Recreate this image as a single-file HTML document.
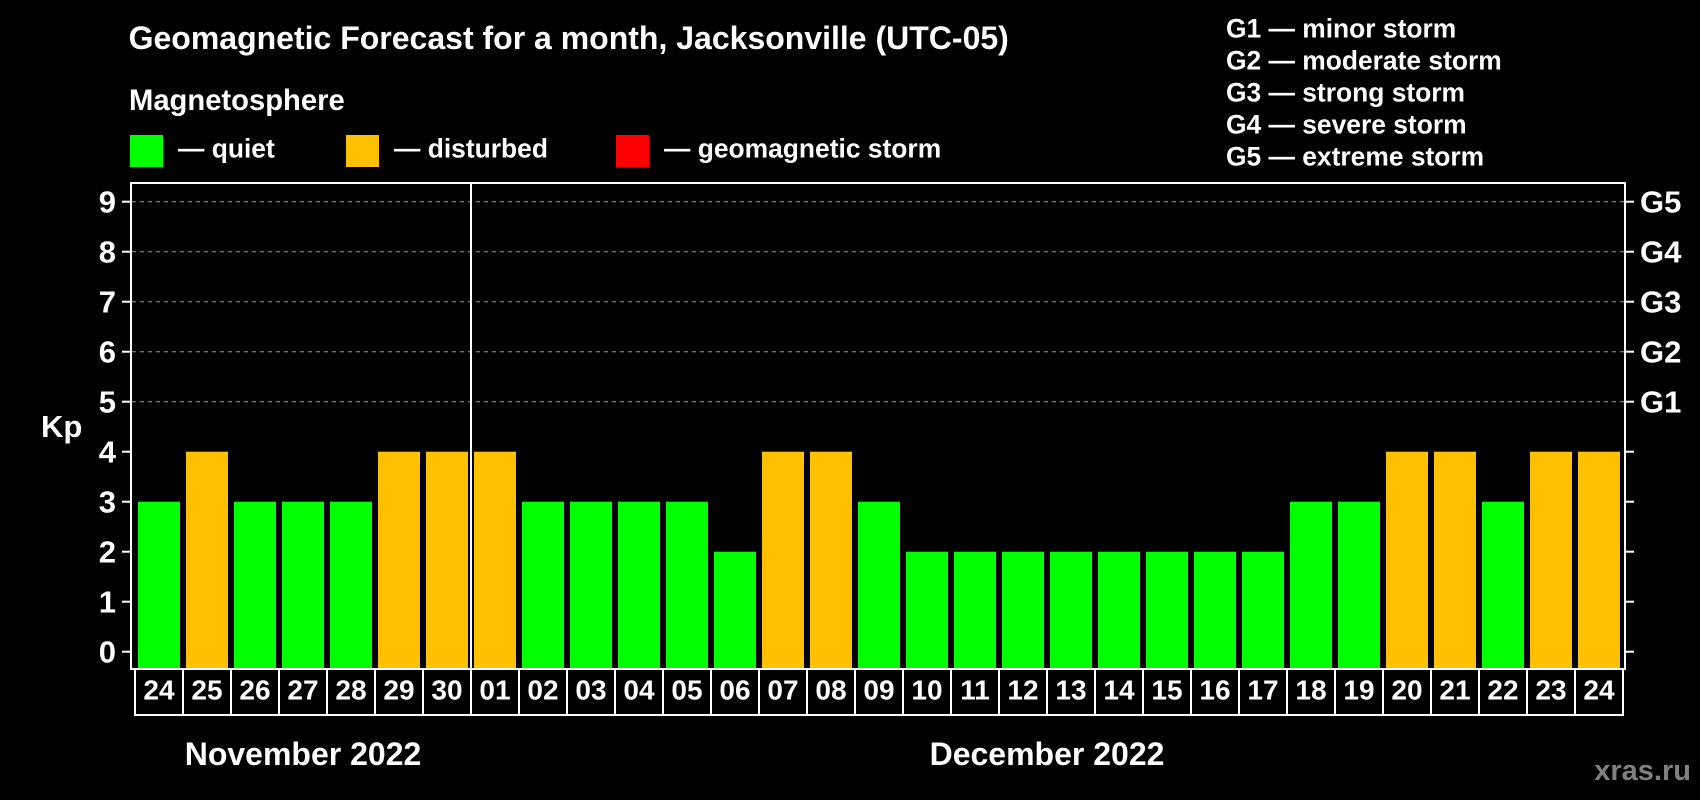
<!DOCTYPE html>
<html>
<head>
<meta charset="utf-8">
<style>
  html, body { margin:0; padding:0; background:#000; }
  body { width:1700px; height:800px; overflow:hidden; }
  svg { display:block; }
  text { font-family:"Liberation Sans", Arial, sans-serif; font-weight:bold; fill:#fff; }
</style>
</head>
<body>
<svg width="1700" height="800" viewBox="0 0 1700 800" xmlns="http://www.w3.org/2000/svg">
  <rect x="0" y="0" width="1700" height="800" fill="#000"/>

  <!-- Title -->
  <text x="128.6" y="49" font-size="32">Geomagnetic Forecast for a month, Jacksonville (UTC-05)</text>
  <text x="129" y="110" font-size="29.2">Magnetosphere</text>

  <!-- Legend -->
  <rect x="130" y="135" width="33" height="32" fill="#00ff00"/>
  <text x="178" y="157.3" font-size="26.4">— quiet</text>
  <rect x="346" y="135" width="33" height="32" fill="#ffc000"/>
  <text x="394" y="157.3" font-size="26.4">— disturbed</text>
  <rect x="616" y="135" width="33" height="32" fill="#ff0000"/>
  <text x="664" y="157.3" font-size="26.4">— geomagnetic storm</text>

  <!-- Right legend -->
  <text x="1226" y="37.7" font-size="26.4">G1 — minor storm</text>
  <text x="1226" y="69.7" font-size="26.4">G2 — moderate storm</text>
  <text x="1226" y="101.7" font-size="26.4">G3 — strong storm</text>
  <text x="1226" y="133.7" font-size="26.4">G4 — severe storm</text>
  <text x="1226" y="165.7" font-size="26.4">G5 — extreme storm</text>

  <!-- Gridlines (5..9) -->
  <g stroke="#9a9a9a" stroke-width="1" stroke-dasharray="4,4">
    <line x1="132" y1="401.7" x2="1624" y2="401.7"/>
    <line x1="132" y1="351.7" x2="1624" y2="351.7"/>
    <line x1="132" y1="301.7" x2="1624" y2="301.7"/>
    <line x1="132" y1="251.7" x2="1624" y2="251.7"/>
    <line x1="132" y1="201.7" x2="1624" y2="201.7"/>
  </g>

  <!-- Bars -->
  <g>
    <rect x="138" y="501.7" width="42" height="166.3" fill="#00ff00"/>
    <rect x="186" y="451.7" width="42" height="216.3" fill="#ffc000"/>
    <rect x="234" y="501.7" width="42" height="166.3" fill="#00ff00"/>
    <rect x="282" y="501.7" width="42" height="166.3" fill="#00ff00"/>
    <rect x="330" y="501.7" width="42" height="166.3" fill="#00ff00"/>
    <rect x="378" y="451.7" width="42" height="216.3" fill="#ffc000"/>
    <rect x="426" y="451.7" width="42" height="216.3" fill="#ffc000"/>
    <rect x="474" y="451.7" width="42" height="216.3" fill="#ffc000"/>
    <rect x="522" y="501.7" width="42" height="166.3" fill="#00ff00"/>
    <rect x="570" y="501.7" width="42" height="166.3" fill="#00ff00"/>
    <rect x="618" y="501.7" width="42" height="166.3" fill="#00ff00"/>
    <rect x="666" y="501.7" width="42" height="166.3" fill="#00ff00"/>
    <rect x="714" y="551.7" width="42" height="116.3" fill="#00ff00"/>
    <rect x="762" y="451.7" width="42" height="216.3" fill="#ffc000"/>
    <rect x="810" y="451.7" width="42" height="216.3" fill="#ffc000"/>
    <rect x="858" y="501.7" width="42" height="166.3" fill="#00ff00"/>
    <rect x="906" y="551.7" width="42" height="116.3" fill="#00ff00"/>
    <rect x="954" y="551.7" width="42" height="116.3" fill="#00ff00"/>
    <rect x="1002" y="551.7" width="42" height="116.3" fill="#00ff00"/>
    <rect x="1050" y="551.7" width="42" height="116.3" fill="#00ff00"/>
    <rect x="1098" y="551.7" width="42" height="116.3" fill="#00ff00"/>
    <rect x="1146" y="551.7" width="42" height="116.3" fill="#00ff00"/>
    <rect x="1194" y="551.7" width="42" height="116.3" fill="#00ff00"/>
    <rect x="1242" y="551.7" width="42" height="116.3" fill="#00ff00"/>
    <rect x="1290" y="501.7" width="42" height="166.3" fill="#00ff00"/>
    <rect x="1338" y="501.7" width="42" height="166.3" fill="#00ff00"/>
    <rect x="1386" y="451.7" width="42" height="216.3" fill="#ffc000"/>
    <rect x="1434" y="451.7" width="42" height="216.3" fill="#ffc000"/>
    <rect x="1482" y="501.7" width="42" height="166.3" fill="#00ff00"/>
    <rect x="1530" y="451.7" width="42" height="216.3" fill="#ffc000"/>
    <rect x="1578" y="451.7" width="42" height="216.3" fill="#ffc000"/>
  </g>

  <!-- Plot frame -->
  <rect x="131" y="183" width="1494" height="486" fill="none" stroke="#fff" stroke-width="2"/>
  <line x1="471" y1="183" x2="471" y2="669" stroke="#fff" stroke-width="2"/>

  <!-- Ticks -->
  <g stroke="#fff" stroke-width="2">
    <line x1="122" y1="651.7" x2="131" y2="651.7"/>
    <line x1="122" y1="601.7" x2="131" y2="601.7"/>
    <line x1="122" y1="551.7" x2="131" y2="551.7"/>
    <line x1="122" y1="501.7" x2="131" y2="501.7"/>
    <line x1="122" y1="451.7" x2="131" y2="451.7"/>
    <line x1="122" y1="401.7" x2="131" y2="401.7"/>
    <line x1="122" y1="351.7" x2="131" y2="351.7"/>
    <line x1="122" y1="301.7" x2="131" y2="301.7"/>
    <line x1="122" y1="251.7" x2="131" y2="251.7"/>
    <line x1="122" y1="201.7" x2="131" y2="201.7"/>
    <line x1="1625" y1="651.7" x2="1634" y2="651.7"/>
    <line x1="1625" y1="601.7" x2="1634" y2="601.7"/>
    <line x1="1625" y1="551.7" x2="1634" y2="551.7"/>
    <line x1="1625" y1="501.7" x2="1634" y2="501.7"/>
    <line x1="1625" y1="451.7" x2="1634" y2="451.7"/>
    <line x1="1625" y1="401.7" x2="1634" y2="401.7"/>
    <line x1="1625" y1="351.7" x2="1634" y2="351.7"/>
    <line x1="1625" y1="301.7" x2="1634" y2="301.7"/>
    <line x1="1625" y1="251.7" x2="1634" y2="251.7"/>
    <line x1="1625" y1="201.7" x2="1634" y2="201.7"/>
  </g>

  <!-- Y labels -->
  <g font-size="31" text-anchor="end">
    <text x="116" y="662.7">0</text>
    <text x="116" y="612.7">1</text>
    <text x="116" y="562.7">2</text>
    <text x="116" y="512.7">3</text>
    <text x="116" y="462.7">4</text>
    <text x="116" y="412.7">5</text>
    <text x="116" y="362.7">6</text>
    <text x="116" y="312.7">7</text>
    <text x="116" y="262.7">8</text>
    <text x="116" y="212.7">9</text>
  </g>
  <text x="41" y="437" font-size="31">Kp</text>

  <g font-size="31">
    <text x="1640" y="412.7">G1</text>
    <text x="1640" y="362.7">G2</text>
    <text x="1640" y="312.7">G3</text>
    <text x="1640" y="262.7">G4</text>
    <text x="1640" y="212.7">G5</text>
  </g>

  <!-- Date boxes -->
  <rect x="135" y="669" width="1488" height="46" fill="none" stroke="#fff" stroke-width="2"/>
  <g stroke="#fff" stroke-width="2">
    <line x1="183" y1="669" x2="183" y2="715"/>
    <line x1="231" y1="669" x2="231" y2="715"/>
    <line x1="279" y1="669" x2="279" y2="715"/>
    <line x1="327" y1="669" x2="327" y2="715"/>
    <line x1="375" y1="669" x2="375" y2="715"/>
    <line x1="423" y1="669" x2="423" y2="715"/>
    <line x1="471" y1="669" x2="471" y2="715"/>
    <line x1="519" y1="669" x2="519" y2="715"/>
    <line x1="567" y1="669" x2="567" y2="715"/>
    <line x1="615" y1="669" x2="615" y2="715"/>
    <line x1="663" y1="669" x2="663" y2="715"/>
    <line x1="711" y1="669" x2="711" y2="715"/>
    <line x1="759" y1="669" x2="759" y2="715"/>
    <line x1="807" y1="669" x2="807" y2="715"/>
    <line x1="855" y1="669" x2="855" y2="715"/>
    <line x1="903" y1="669" x2="903" y2="715"/>
    <line x1="951" y1="669" x2="951" y2="715"/>
    <line x1="999" y1="669" x2="999" y2="715"/>
    <line x1="1047" y1="669" x2="1047" y2="715"/>
    <line x1="1095" y1="669" x2="1095" y2="715"/>
    <line x1="1143" y1="669" x2="1143" y2="715"/>
    <line x1="1191" y1="669" x2="1191" y2="715"/>
    <line x1="1239" y1="669" x2="1239" y2="715"/>
    <line x1="1287" y1="669" x2="1287" y2="715"/>
    <line x1="1335" y1="669" x2="1335" y2="715"/>
    <line x1="1383" y1="669" x2="1383" y2="715"/>
    <line x1="1431" y1="669" x2="1431" y2="715"/>
    <line x1="1479" y1="669" x2="1479" y2="715"/>
    <line x1="1527" y1="669" x2="1527" y2="715"/>
    <line x1="1575" y1="669" x2="1575" y2="715"/>
  </g>
  <g font-size="28" text-anchor="middle">
    <text x="159" y="699.5">24</text>
    <text x="207" y="699.5">25</text>
    <text x="255" y="699.5">26</text>
    <text x="303" y="699.5">27</text>
    <text x="351" y="699.5">28</text>
    <text x="399" y="699.5">29</text>
    <text x="447" y="699.5">30</text>
    <text x="495" y="699.5">01</text>
    <text x="543" y="699.5">02</text>
    <text x="591" y="699.5">03</text>
    <text x="639" y="699.5">04</text>
    <text x="687" y="699.5">05</text>
    <text x="735" y="699.5">06</text>
    <text x="783" y="699.5">07</text>
    <text x="831" y="699.5">08</text>
    <text x="879" y="699.5">09</text>
    <text x="927" y="699.5">10</text>
    <text x="975" y="699.5">11</text>
    <text x="1023" y="699.5">12</text>
    <text x="1071" y="699.5">13</text>
    <text x="1119" y="699.5">14</text>
    <text x="1167" y="699.5">15</text>
    <text x="1215" y="699.5">16</text>
    <text x="1263" y="699.5">17</text>
    <text x="1311" y="699.5">18</text>
    <text x="1359" y="699.5">19</text>
    <text x="1407" y="699.5">20</text>
    <text x="1455" y="699.5">21</text>
    <text x="1503" y="699.5">22</text>
    <text x="1551" y="699.5">23</text>
    <text x="1599" y="699.5">24</text>
  </g>

  <!-- Months -->
  <text x="303" y="765" font-size="32" text-anchor="middle">November 2022</text>
  <text x="1047" y="765" font-size="32" text-anchor="middle">December 2022</text>

  <!-- Watermark -->
  <text x="1691" y="780" font-size="29" text-anchor="end" style="fill:#808080">xras.ru</text>
</svg>
</body>
</html>
